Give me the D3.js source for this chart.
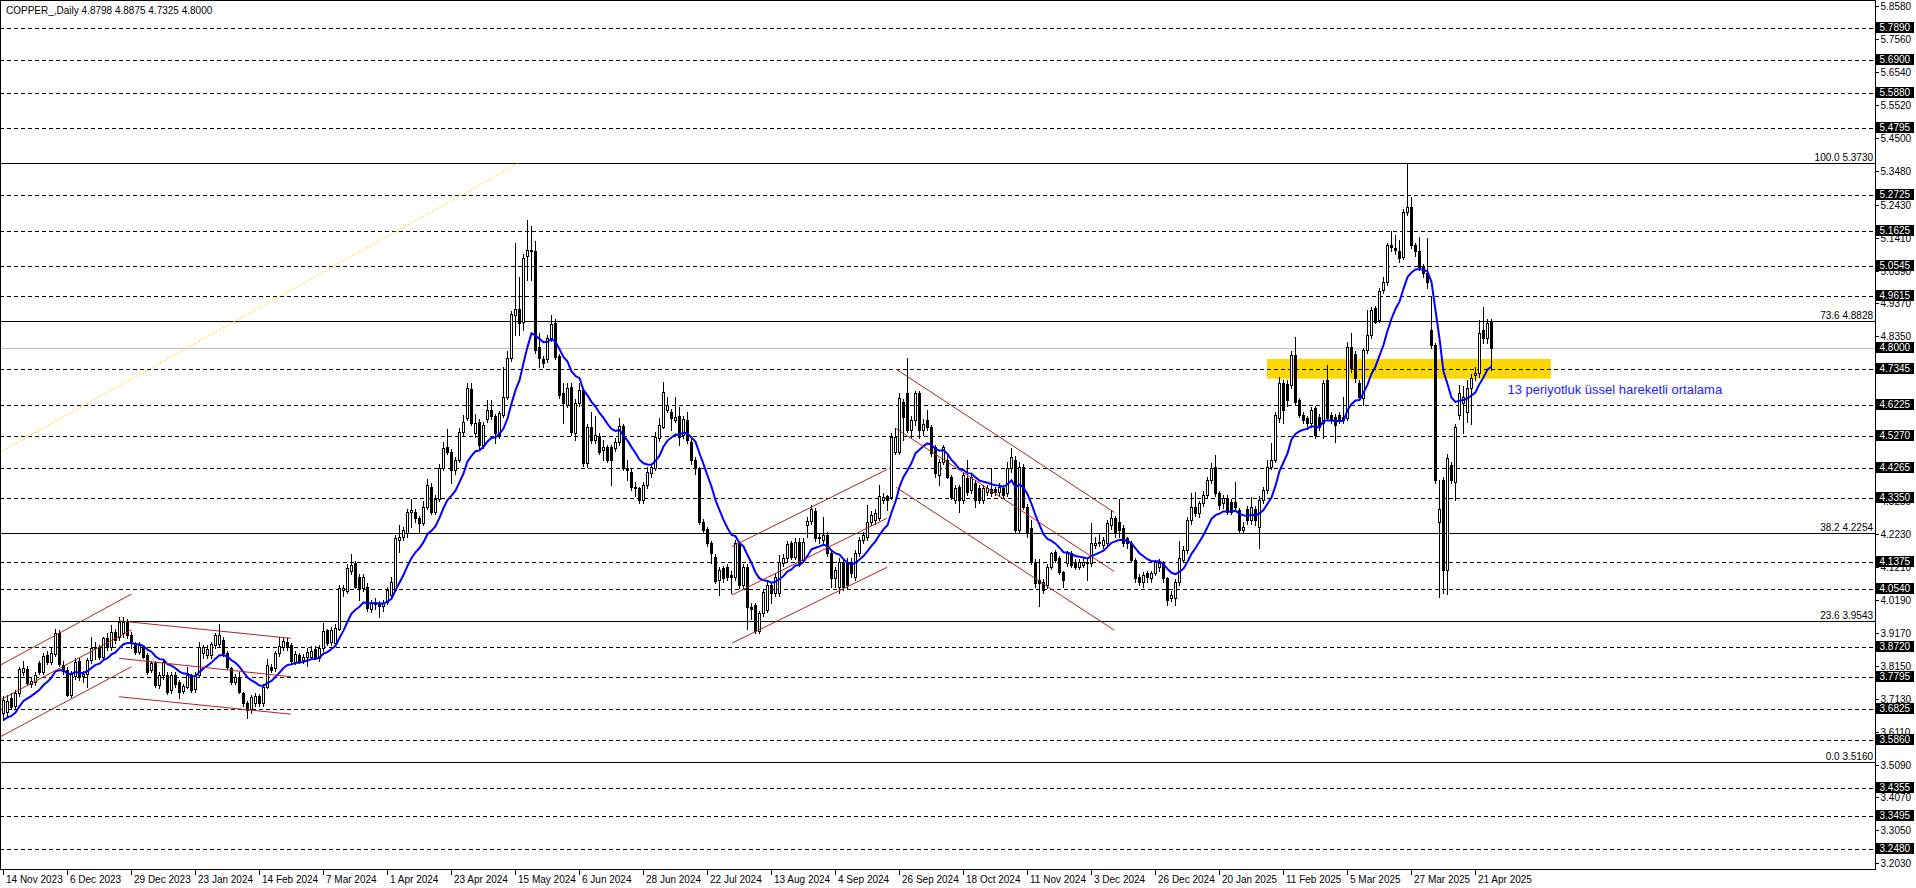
<!DOCTYPE html>
<html><head><meta charset="utf-8">
<script src="https://cdn.jsdelivr.net/npm/d3@7"></script>
<style>
html,body{margin:0;padding:0;background:#fff;overflow:hidden;}
svg{display:block;}
text{font-family:"Liberation Sans",Arial,sans-serif;}
</style></head><body>
<svg id="c" width="1916" height="888"></svg>
<script>
// ---------------- data ----------------
const titleText = "COPPER_,Daily  4.8798 4.8875 4.7325 4.8000";
// daily candles [open, high, low, close], first bar = 14 Nov 2023
const candles = [
[3.668,3.720,3.648,3.709],[3.672,3.725,3.660,3.705],[3.714,3.730,3.680,3.688],[3.690,3.740,3.680,3.730],[3.730,3.812,3.722,3.804],
[3.795,3.830,3.785,3.808],[3.804,3.815,3.755,3.763],[3.760,3.780,3.748,3.768],[3.766,3.795,3.755,3.786],[3.824,3.830,3.790,3.797],
[3.797,3.855,3.790,3.845],[3.848,3.860,3.820,3.828],[3.828,3.870,3.820,3.853],[3.850,3.928,3.845,3.915],[3.915,3.925,3.815,3.820],
[3.818,3.830,3.790,3.800],[3.802,3.810,3.720,3.724],[3.724,3.800,3.718,3.791],[3.782,3.840,3.775,3.828],[3.830,3.838,3.770,3.780],
[3.782,3.800,3.765,3.788],[3.790,3.840,3.748,3.833],[3.833,3.905,3.825,3.869],[3.869,3.890,3.835,3.874],[3.874,3.880,3.835,3.843],
[3.843,3.905,3.835,3.900],[3.900,3.915,3.865,3.874],[3.874,3.940,3.865,3.920],[3.920,3.930,3.885,3.895],[3.905,3.965,3.895,3.952],
[3.915,3.967,3.905,3.950],[3.950,3.960,3.900,3.910],[3.910,3.920,3.870,3.885],[3.884,3.890,3.850,3.858],[3.858,3.890,3.850,3.880],
[3.875,3.880,3.838,3.843],[3.848,3.855,3.790,3.797],[3.802,3.830,3.795,3.822],[3.822,3.830,3.750,3.755],[3.755,3.795,3.745,3.786],
[3.786,3.835,3.775,3.828],[3.786,3.795,3.728,3.735],[3.740,3.795,3.730,3.786],[3.786,3.795,3.750,3.760],[3.765,3.770,3.714,3.735],
[3.738,3.760,3.730,3.752],[3.750,3.810,3.745,3.786],[3.786,3.790,3.735,3.740],[3.742,3.795,3.735,3.786],[3.786,3.890,3.780,3.872],
[3.853,3.880,3.840,3.872],[3.848,3.880,3.840,3.866],[3.848,3.890,3.840,3.882],[3.879,3.915,3.870,3.910],[3.882,3.944,3.875,3.910],
[3.895,3.905,3.845,3.853],[3.855,3.860,3.805,3.812],[3.807,3.812,3.760,3.766],[3.766,3.790,3.760,3.779],[3.781,3.795,3.730,3.735],
[3.730,3.735,3.690,3.699],[3.699,3.705,3.652,3.678],[3.680,3.725,3.670,3.717],[3.699,3.730,3.690,3.720],[3.720,3.728,3.690,3.699],
[3.699,3.760,3.690,3.750],[3.750,3.837,3.745,3.816],[3.812,3.820,3.795,3.802],[3.807,3.860,3.800,3.853],[3.853,3.905,3.845,3.876],
[3.874,3.900,3.865,3.893],[3.890,3.900,3.865,3.874],[3.879,3.885,3.825,3.831],[3.828,3.860,3.820,3.850],[3.848,3.855,3.825,3.831],
[3.833,3.850,3.825,3.841],[3.841,3.870,3.815,3.858],[3.843,3.875,3.835,3.860],[3.866,3.875,3.835,3.840],[3.838,3.880,3.830,3.869],
[3.869,3.946,3.860,3.922],[3.925,3.930,3.880,3.886],[3.890,3.935,3.880,3.925],[3.884,3.945,3.880,3.933],[3.930,4.065,3.925,4.055],
[4.050,4.065,4.030,4.055],[4.045,4.130,4.040,4.117],[4.110,4.161,4.100,4.127],[4.132,4.140,4.055,4.060],[4.091,4.100,4.020,4.055],
[4.055,4.100,4.045,4.091],[4.060,4.070,3.985,3.993],[3.990,4.020,3.980,4.010],[4.005,4.025,3.990,4.010],[4.005,4.015,3.967,3.999],
[4.000,4.020,3.985,4.008],[4.013,4.060,4.005,4.050],[4.034,4.091,4.028,4.075],[4.050,4.220,4.045,4.210],[4.205,4.251,4.168,4.215],
[4.215,4.245,4.205,4.236],[4.225,4.300,4.215,4.292],[4.292,4.333,4.246,4.297],[4.292,4.300,4.260,4.272],[4.272,4.280,4.225,4.258],
[4.256,4.325,4.250,4.308],[4.308,4.392,4.300,4.375],[4.370,4.380,4.285,4.292],[4.292,4.345,4.285,4.333],[4.333,4.440,4.325,4.426],
[4.426,4.509,4.420,4.488],[4.493,4.547,4.470,4.478],[4.478,4.485,4.380,4.421],[4.421,4.460,4.410,4.452],[4.452,4.550,4.445,4.540],
[4.540,4.592,4.530,4.571],[4.581,4.690,4.575,4.674],[4.671,4.690,4.560,4.566],[4.535,4.594,4.525,4.566],[4.571,4.580,4.490,4.499],
[4.499,4.570,4.490,4.561],[4.578,4.638,4.570,4.607],[4.607,4.638,4.580,4.587],[4.587,4.595,4.504,4.535],[4.530,4.605,4.520,4.597],
[4.592,4.741,4.585,4.648],[4.648,4.790,4.640,4.767],[4.767,4.915,4.760,4.904],[4.901,5.123,4.840,4.919],[4.919,5.020,4.840,4.878],
[4.880,5.090,4.855,5.077],[5.084,5.196,5.010,5.103],[5.103,5.178,5.010,5.098],[5.100,5.132,4.785,4.793],[4.803,4.845,4.741,4.767],
[4.764,4.775,4.740,4.754],[4.764,4.840,4.755,4.829],[4.829,4.901,4.820,4.874],[4.876,4.888,4.765,4.772],[4.774,4.780,4.645,4.654],
[4.659,4.690,4.566,4.628],[4.623,4.690,4.615,4.674],[4.679,4.690,4.530,4.540],[4.535,4.640,4.514,4.628],[4.628,4.690,4.620,4.669],
[4.669,4.675,4.435,4.442],[4.442,4.565,4.430,4.555],[4.555,4.600,4.505,4.514],[4.514,4.589,4.505,4.530],[4.527,4.535,4.470,4.478],
[4.483,4.514,4.452,4.493],[4.493,4.500,4.445,4.452],[4.493,4.500,4.375,4.452],[4.488,4.520,4.480,4.509],[4.509,4.581,4.500,4.558],
[4.558,4.565,4.420,4.426],[4.426,4.452,4.390,4.421],[4.416,4.425,4.360,4.370],[4.370,4.385,4.340,4.365],[4.364,4.370,4.320,4.328],
[4.328,4.385,4.320,4.375],[4.375,4.430,4.365,4.416],[4.411,4.440,4.400,4.432],[4.426,4.540,4.420,4.525],[4.520,4.581,4.512,4.561],
[4.555,4.695,4.550,4.664],[4.607,4.648,4.600,4.622],[4.602,4.610,4.545,4.581],[4.576,4.648,4.570,4.586],[4.590,4.617,4.500,4.525],
[4.530,4.590,4.520,4.578],[4.576,4.600,4.505,4.514],[4.509,4.525,4.440,4.452],[4.452,4.460,4.410,4.426],[4.426,4.430,4.255,4.261],
[4.261,4.270,4.225,4.236],[4.238,4.245,4.185,4.194],[4.194,4.200,4.132,4.163],[4.153,4.160,4.070,4.076],[4.081,4.120,4.034,4.112],
[4.117,4.125,4.075,4.086],[4.122,4.130,4.080,4.091],[4.095,4.110,4.040,4.091],[4.091,4.205,4.080,4.194],[4.194,4.200,4.055,4.065],
[4.065,4.130,4.055,4.122],[4.122,4.130,3.930,3.998],[3.998,4.010,3.960,3.990],[4.003,4.010,3.915,3.924],[3.924,3.985,3.915,3.977],
[3.977,4.050,3.970,4.044],[3.987,4.081,3.980,4.065],[4.065,4.075,4.009,4.039],[4.039,4.100,4.030,4.091],[4.039,4.158,4.030,4.137],
[4.134,4.160,4.125,4.148],[4.148,4.200,4.140,4.192],[4.194,4.200,4.145,4.153],[4.153,4.210,4.145,4.199],[4.199,4.210,4.125,4.132],
[4.142,4.210,4.135,4.199],[4.251,4.275,4.215,4.264],[4.264,4.313,4.255,4.299],[4.295,4.305,4.200,4.210],[4.215,4.225,4.195,4.210],
[4.204,4.275,4.195,4.220],[4.220,4.230,4.155,4.163],[4.163,4.170,4.060,4.086],[4.086,4.120,4.060,4.112],[4.060,4.150,4.040,4.137],
[4.137,4.150,4.050,4.060],[4.137,4.150,4.055,4.065],[4.137,4.150,4.090,4.101],[4.091,4.175,4.080,4.163],[4.163,4.215,4.155,4.204],
[4.204,4.230,4.195,4.220],[4.215,4.313,4.205,4.261],[4.261,4.295,4.250,4.282],[4.266,4.300,4.255,4.287],[4.272,4.375,4.265,4.341],
[4.328,4.350,4.320,4.339],[4.341,4.345,4.297,4.328],[4.339,4.535,4.330,4.525],[4.478,4.550,4.470,4.525],[4.478,4.659,4.470,4.643],
[4.633,4.640,4.514,4.584],[4.660,4.767,4.540,4.545],[4.545,4.590,4.520,4.576],[4.576,4.665,4.560,4.659],[4.659,4.665,4.520,4.545],
[4.545,4.580,4.530,4.564],[4.576,4.607,4.545,4.555],[4.555,4.560,4.465,4.473],[4.494,4.500,4.400,4.411],[4.406,4.455,4.375,4.447],
[4.447,4.500,4.440,4.494],[4.452,4.470,4.395,4.401],[4.401,4.405,4.330,4.339],[4.328,4.375,4.320,4.364],[4.370,4.375,4.292,4.328],
[4.328,4.415,4.320,4.406],[4.395,4.452,4.345,4.354],[4.359,4.410,4.350,4.401],[4.380,4.390,4.308,4.328],[4.364,4.375,4.320,4.328],
[4.328,4.375,4.320,4.364],[4.354,4.375,4.345,4.364],[4.361,4.426,4.340,4.349],[4.361,4.370,4.345,4.354],[4.354,4.380,4.340,4.370],
[4.364,4.375,4.335,4.344],[4.349,4.447,4.340,4.426],[4.426,4.488,4.415,4.463],[4.452,4.465,4.225,4.235],[4.235,4.445,4.225,4.432],
[4.432,4.440,4.300,4.308],[4.308,4.315,4.215,4.225],[4.241,4.266,4.130,4.137],[4.137,4.145,4.060,4.070],[4.081,4.145,4.000,4.070],
[4.075,4.085,4.040,4.050],[4.065,4.130,4.055,4.122],[4.122,4.168,4.115,4.163],[4.168,4.175,4.135,4.142],[4.148,4.155,4.100,4.106],
[4.106,4.110,4.060,4.081],[4.132,4.170,4.125,4.163],[4.163,4.170,4.120,4.127],[4.137,4.145,4.115,4.122],[4.122,4.145,4.115,4.137],
[4.127,4.150,4.120,4.137],[4.137,4.145,4.080,4.132],[4.132,4.256,4.125,4.194],[4.189,4.215,4.180,4.194],[4.194,4.225,4.185,4.199],
[4.189,4.215,4.180,4.205],[4.194,4.267,4.185,4.256],[4.251,4.298,4.240,4.272],[4.272,4.280,4.215,4.225],[4.261,4.333,4.215,4.236],
[4.241,4.250,4.185,4.194],[4.210,4.215,4.180,4.194],[4.194,4.200,4.135,4.143],[4.143,4.150,4.075,4.086],[4.091,4.100,4.065,4.075],
[4.075,4.105,4.060,4.096],[4.101,4.110,4.075,4.091],[4.086,4.110,4.075,4.101],[4.101,4.143,4.095,4.137],[4.122,4.145,4.110,4.134],
[4.132,4.140,4.075,4.086],[4.086,4.090,4.003,4.019],[4.024,4.045,4.015,4.034],[4.024,4.085,4.003,4.075],[4.075,4.200,4.065,4.148],
[4.143,4.185,4.135,4.174],[4.174,4.275,4.165,4.266],[4.266,4.349,4.255,4.308],[4.308,4.354,4.280,4.287],[4.287,4.325,4.275,4.318],
[4.318,4.355,4.310,4.344],[4.344,4.400,4.335,4.390],[4.390,4.442,4.380,4.426],[4.432,4.468,4.340,4.349],[4.349,4.355,4.300,4.313],
[4.318,4.345,4.305,4.334],[4.334,4.345,4.285,4.292],[4.323,4.330,4.285,4.292],[4.323,4.385,4.300,4.308],[4.297,4.305,4.225,4.236],
[4.236,4.260,4.225,4.246],[4.302,4.310,4.255,4.266],[4.266,4.339,4.255,4.308],[4.302,4.310,4.250,4.266],[4.246,4.340,4.179,4.328],
[4.328,4.370,4.320,4.359],[4.359,4.452,4.350,4.432],[4.432,4.504,4.425,4.452],[4.452,4.600,4.445,4.592],[4.581,4.710,4.571,4.692],
[4.690,4.700,4.566,4.607],[4.687,4.700,4.620,4.638],[4.685,4.790,4.675,4.777],[4.777,4.832,4.625,4.633],[4.638,4.645,4.585,4.592],
[4.592,4.600,4.566,4.576],[4.581,4.590,4.555,4.566],[4.566,4.615,4.555,4.607],[4.612,4.620,4.520,4.530],[4.586,4.595,4.545,4.555],
[4.566,4.700,4.519,4.692],[4.700,4.746,4.575,4.581],[4.592,4.600,4.566,4.576],[4.586,4.595,4.509,4.561],[4.592,4.600,4.566,4.576],
[4.586,4.648,4.566,4.576],[4.581,4.818,4.575,4.803],[4.803,4.847,4.725,4.736],[4.779,4.790,4.695,4.705],[4.690,4.700,4.640,4.648],
[4.643,4.800,4.623,4.793],[4.793,4.917,4.785,4.839],[4.839,4.927,4.830,4.917],[4.922,4.930,4.875,4.881],[4.886,4.985,4.880,4.977],
[4.979,5.020,4.970,5.005],[5.005,5.125,4.995,5.118],[5.118,5.160,5.100,5.113],[5.108,5.149,5.090,5.103],[5.098,5.134,5.065,5.077],
[5.082,5.230,5.075,5.221],[5.221,5.373,5.210,5.237],[5.237,5.268,5.110,5.118],[5.118,5.125,5.085,5.098],[5.098,5.144,5.040,5.051],
[5.051,5.060,5.020,5.030],[5.030,5.139,4.985,5.005],[4.855,4.958,4.800,4.808],[4.808,4.815,4.380,4.390],[4.261,4.390,4.029,4.302],
[4.390,4.400,4.040,4.112],[4.112,4.470,4.036,4.457],[4.437,4.445,4.380,4.390],[4.385,4.565,4.329,4.555],[4.591,4.684,4.580,4.659],
[4.628,4.680,4.535,4.648],[4.602,4.700,4.570,4.674],[4.674,4.720,4.565,4.705],[4.716,4.741,4.700,4.721],[4.721,4.886,4.710,4.845],
[4.855,4.927,4.815,4.829],[4.829,4.890,4.815,4.878],[4.8798,4.8875,4.7325,4.8000]
];
const emaPeriod = 13;
const emaStartValue = 3.647;   // EMA value read at the first visible bar

const dateLabels = ["14 Nov 2023","6 Dec 2023","29 Dec 2023","23 Jan 2024","14 Feb 2024","7 Mar 2024","1 Apr 2024","23 Apr 2024","15 May 2024","6 Jun 2024","28 Jun 2024","22 Jul 2024","13 Aug 2024","4 Sep 2024","26 Sep 2024","18 Oct 2024","11 Nov 2024","3 Dec 2024","26 Dec 2024","20 Jan 2025","11 Feb 2025","5 Mar 2025","27 Mar 2025","21 Apr 2025"];
const dateLabelBars = [0,16,32,48,64,80,96,112,128,144,160,176,192,208,224,240,256,272,288,304,320,336,352,368];

// visible scale labels (the ones fully hidden under level boxes are left out)
const priceTickLabels = ["5.8580","5.7560","5.6540","5.5520","5.4500","5.3480","5.2430","5.1410","5.0390","4.9370","4.8350","4.3250","4.2230","4.1210","4.0190","3.9170","3.8150","3.7130","3.6110","3.5090","3.4070","3.3050","3.2030"];
const levelLabels = ["5.7890","5.6900","5.5880","5.4795","5.2725","5.1625","5.0545","4.9615","4.7345","4.6225","4.5270","4.4265","4.3350","4.1375","4.0540","3.8720","3.7795","3.6825","3.5860","3.4355","3.3495","3.2480"];
const lastPriceLabel = "4.8000";

const fibNames = ["100.0","73.6","38.2","23.6","0.0"];
const fibValues = ["5.3730","4.8828","4.2254","3.9543","3.5160"];
const fibTrend = [[-140,3.516],[129,5.373]];   // [bar, price]

// channel trend lines: [bar1, price1, bar2, price2]
const channelLines = [
  [-0.8,3.817,32,4.037],[-0.8,3.709,32,3.926],[-0.8,3.595,32,3.812],
  [28.9,3.954,71.85,3.900],[28.9,3.838,71.85,3.781],[28.9,3.719,71.85,3.665],
  [182.1,4.184,220.9,4.423],[182.1,4.034,220.9,4.272],[182.1,3.885,220.9,4.120],
  [223.1,4.734,277.7,4.290],[223.1,4.550,277.7,4.107],[223.1,4.368,277.7,3.925]
];
const zoneBars = [315.85, 386.85];
const zonePrices = [4.704, 4.765];
const emaNote = "13 periyotluk üssel hareketli ortalama";
const emaNoteAt = [376, 4.657];  // [bar, price] of text baseline start

// ---------------- layout ----------------
const W = 1916, H = 888;
const plotR = 1875, plotB = 869;
const svg = d3.select("#c");
const x = d3.scaleLinear().domain([0, 372]).range([3.5, 3.5 + 4*372]);
const y = d3.scaleLinear().domain([3.516, 5.373]).range([762.3, 162.7]);
const crisp = v => Math.round(v) + 0.5;

svg.append("rect").attr("width", W).attr("height", H).attr("fill", "#fff");
svg.append("clipPath").attr("id","plot").append("rect").attr("x",0).attr("y",0).attr("width",plotR).attr("height",plotB);
const g = svg.append("g").attr("clip-path","url(#plot)");

// zone rectangle (background)
g.append("rect")
  .attr("x", x(zoneBars[0])).attr("width", x(zoneBars[1]) - x(zoneBars[0]))
  .attr("y", y(zonePrices[1])).attr("height", y(zonePrices[0]) - y(zonePrices[1]))
  .attr("fill", "#FFD700");

// dashed horizontal levels
g.selectAll("line.lvl").data(levelLabels).join("line").attr("class","lvl")
  .attr("x1",0).attr("x2",plotR)
  .attr("y1", d => crisp(y(+d))).attr("y2", d => crisp(y(+d)))
  .attr("stroke","#000").attr("stroke-width",1).attr("stroke-dasharray","4,3").attr("shape-rendering","crispEdges");

// last price line
g.append("line").attr("x1",0).attr("x2",plotR)
  .attr("y1",crisp(y(+lastPriceLabel))).attr("y2",crisp(y(+lastPriceLabel)))
  .attr("stroke","#C0C0C0").attr("stroke-width",1).attr("shape-rendering","crispEdges");

// fib levels
g.selectAll("line.fib").data(fibValues).join("line").attr("class","fib")
  .attr("x1",0).attr("x2",plotR)
  .attr("y1", d => crisp(y(+d))).attr("y2", d => crisp(y(+d)))
  .attr("stroke","#000").attr("stroke-width",1).attr("shape-rendering","crispEdges");
g.selectAll("text.fib").data(fibValues).join("text").attr("class","fib")
  .attr("x", plotR - 2).attr("y", d => crisp(y(+d)) - 2.5)
  .attr("text-anchor","end").attr("font-size","10px").attr("fill","#000")
  .text((d,i) => fibNames[i] + " " + d);

// fib diagonal (dotted yellow)
g.append("line")
  .attr("x1", x(fibTrend[0][0])).attr("y1", y(fibTrend[0][1]))
  .attr("x2", x(fibTrend[1][0])).attr("y2", y(fibTrend[1][1]))
  .attr("stroke","#FFD700").attr("stroke-width",1).attr("stroke-dasharray","2,2");

// candles
const cg = g.append("g");
candles.forEach((d, i) => {
  const [o,h,l,c] = d;
  const cx = Math.floor(x(i));
  cg.append("line").attr("x1",cx+0.5).attr("x2",cx+0.5)
    .attr("y1",Math.round(y(h))).attr("y2",Math.round(y(l))+1)
    .attr("stroke","#000").attr("stroke-width",1).attr("shape-rendering","crispEdges");
  const top = Math.round(y(Math.max(o,c))) + 0.5;
  const bot = Math.round(y(Math.min(o,c))) + 0.5;
  const bull = c >= o;
  cg.append("path")
    .attr("d", `M${cx-0.5},${top}H${cx+1.5}V${bot}H${cx-0.5}Z`)
    .attr("fill", bull ? "#fff" : "#000").attr("stroke","#000").attr("stroke-width",1)
    .attr("shape-rendering","crispEdges");
});

// EMA(13) of closes
const k = 2/(emaPeriod+1);
const ema = [];
candles.forEach((d,i) => { ema.push(i === 0 ? emaStartValue : ema[i-1] + k*(d[3]-ema[i-1])); });
g.append("path").datum(ema)
  .attr("d", d3.line().x((d,i)=>x(i)).y(d=>y(d)))
  .attr("fill","none").attr("stroke","#0000FF").attr("stroke-width",2);

// channel trend lines
g.selectAll("line.ch").data(channelLines).join("line").attr("class","ch")
  .attr("x1",d=>x(d[0])).attr("y1",d=>y(d[1])).attr("x2",d=>x(d[2])).attr("y2",d=>y(d[3]))
  .attr("stroke","#B22222").attr("stroke-width",1);

// EMA annotation
g.append("text").attr("x", x(emaNoteAt[0])).attr("y", y(emaNoteAt[1]))
  .attr("font-size","13px").attr("fill","#1a1aff").text(emaNote);

// title
svg.append("text").attr("x",6).attr("y",14).attr("font-size","10px").attr("fill","#000").text(titleText);

// frame
svg.append("rect").attr("x",0.5).attr("y",0.5).attr("width",plotR).attr("height",plotB-0.5)
  .attr("fill","none").attr("stroke","#000").attr("stroke-width",1).attr("shape-rendering","crispEdges");

// right price axis
const ax = svg.append("g");
ax.selectAll("line.t").data(priceTickLabels).join("line").attr("class","t")
  .attr("x1",plotR+0.5).attr("x2",plotR+4)
  .attr("y1",d=>crisp(y(+d))).attr("y2",d=>crisp(y(+d)))
  .attr("stroke","#000").attr("shape-rendering","crispEdges");
ax.selectAll("text.t").data(priceTickLabels).join("text").attr("class","t")
  .attr("x",plotR+5.5).attr("y",d=>y(+d)+4)
  .attr("font-size","10px").attr("fill","#000").text(d=>d);
const boxes = levelLabels.concat([lastPriceLabel]);
ax.selectAll("rect.b").data(boxes).join("rect").attr("class","b")
  .attr("x",plotR+1).attr("width",38)
  .attr("y",d=>Math.round(y(+d))-6).attr("height",11).attr("fill","#000");
ax.selectAll("text.b").data(boxes).join("text").attr("class","b")
  .attr("x",plotR+4.5).attr("y",d=>Math.round(y(+d))+3)
  .attr("font-size","10px").attr("fill","#fff").text(d=>d);

// bottom date axis
const bx = svg.append("g");
bx.selectAll("line").data(dateLabelBars).join("line")
  .attr("x1",d=>Math.floor(x(d))+0.5).attr("x2",d=>Math.floor(x(d))+0.5)
  .attr("y1",plotB).attr("y2",plotB+6)
  .attr("stroke","#000").attr("shape-rendering","crispEdges");
bx.selectAll("text").data(dateLabelBars).join("text")
  .attr("x",d=>Math.floor(x(d))+3).attr("y",plotB+14)
  .attr("font-size","10px").attr("fill","#000").text((d,i)=>dateLabels[i]);
</script>
</body></html>
